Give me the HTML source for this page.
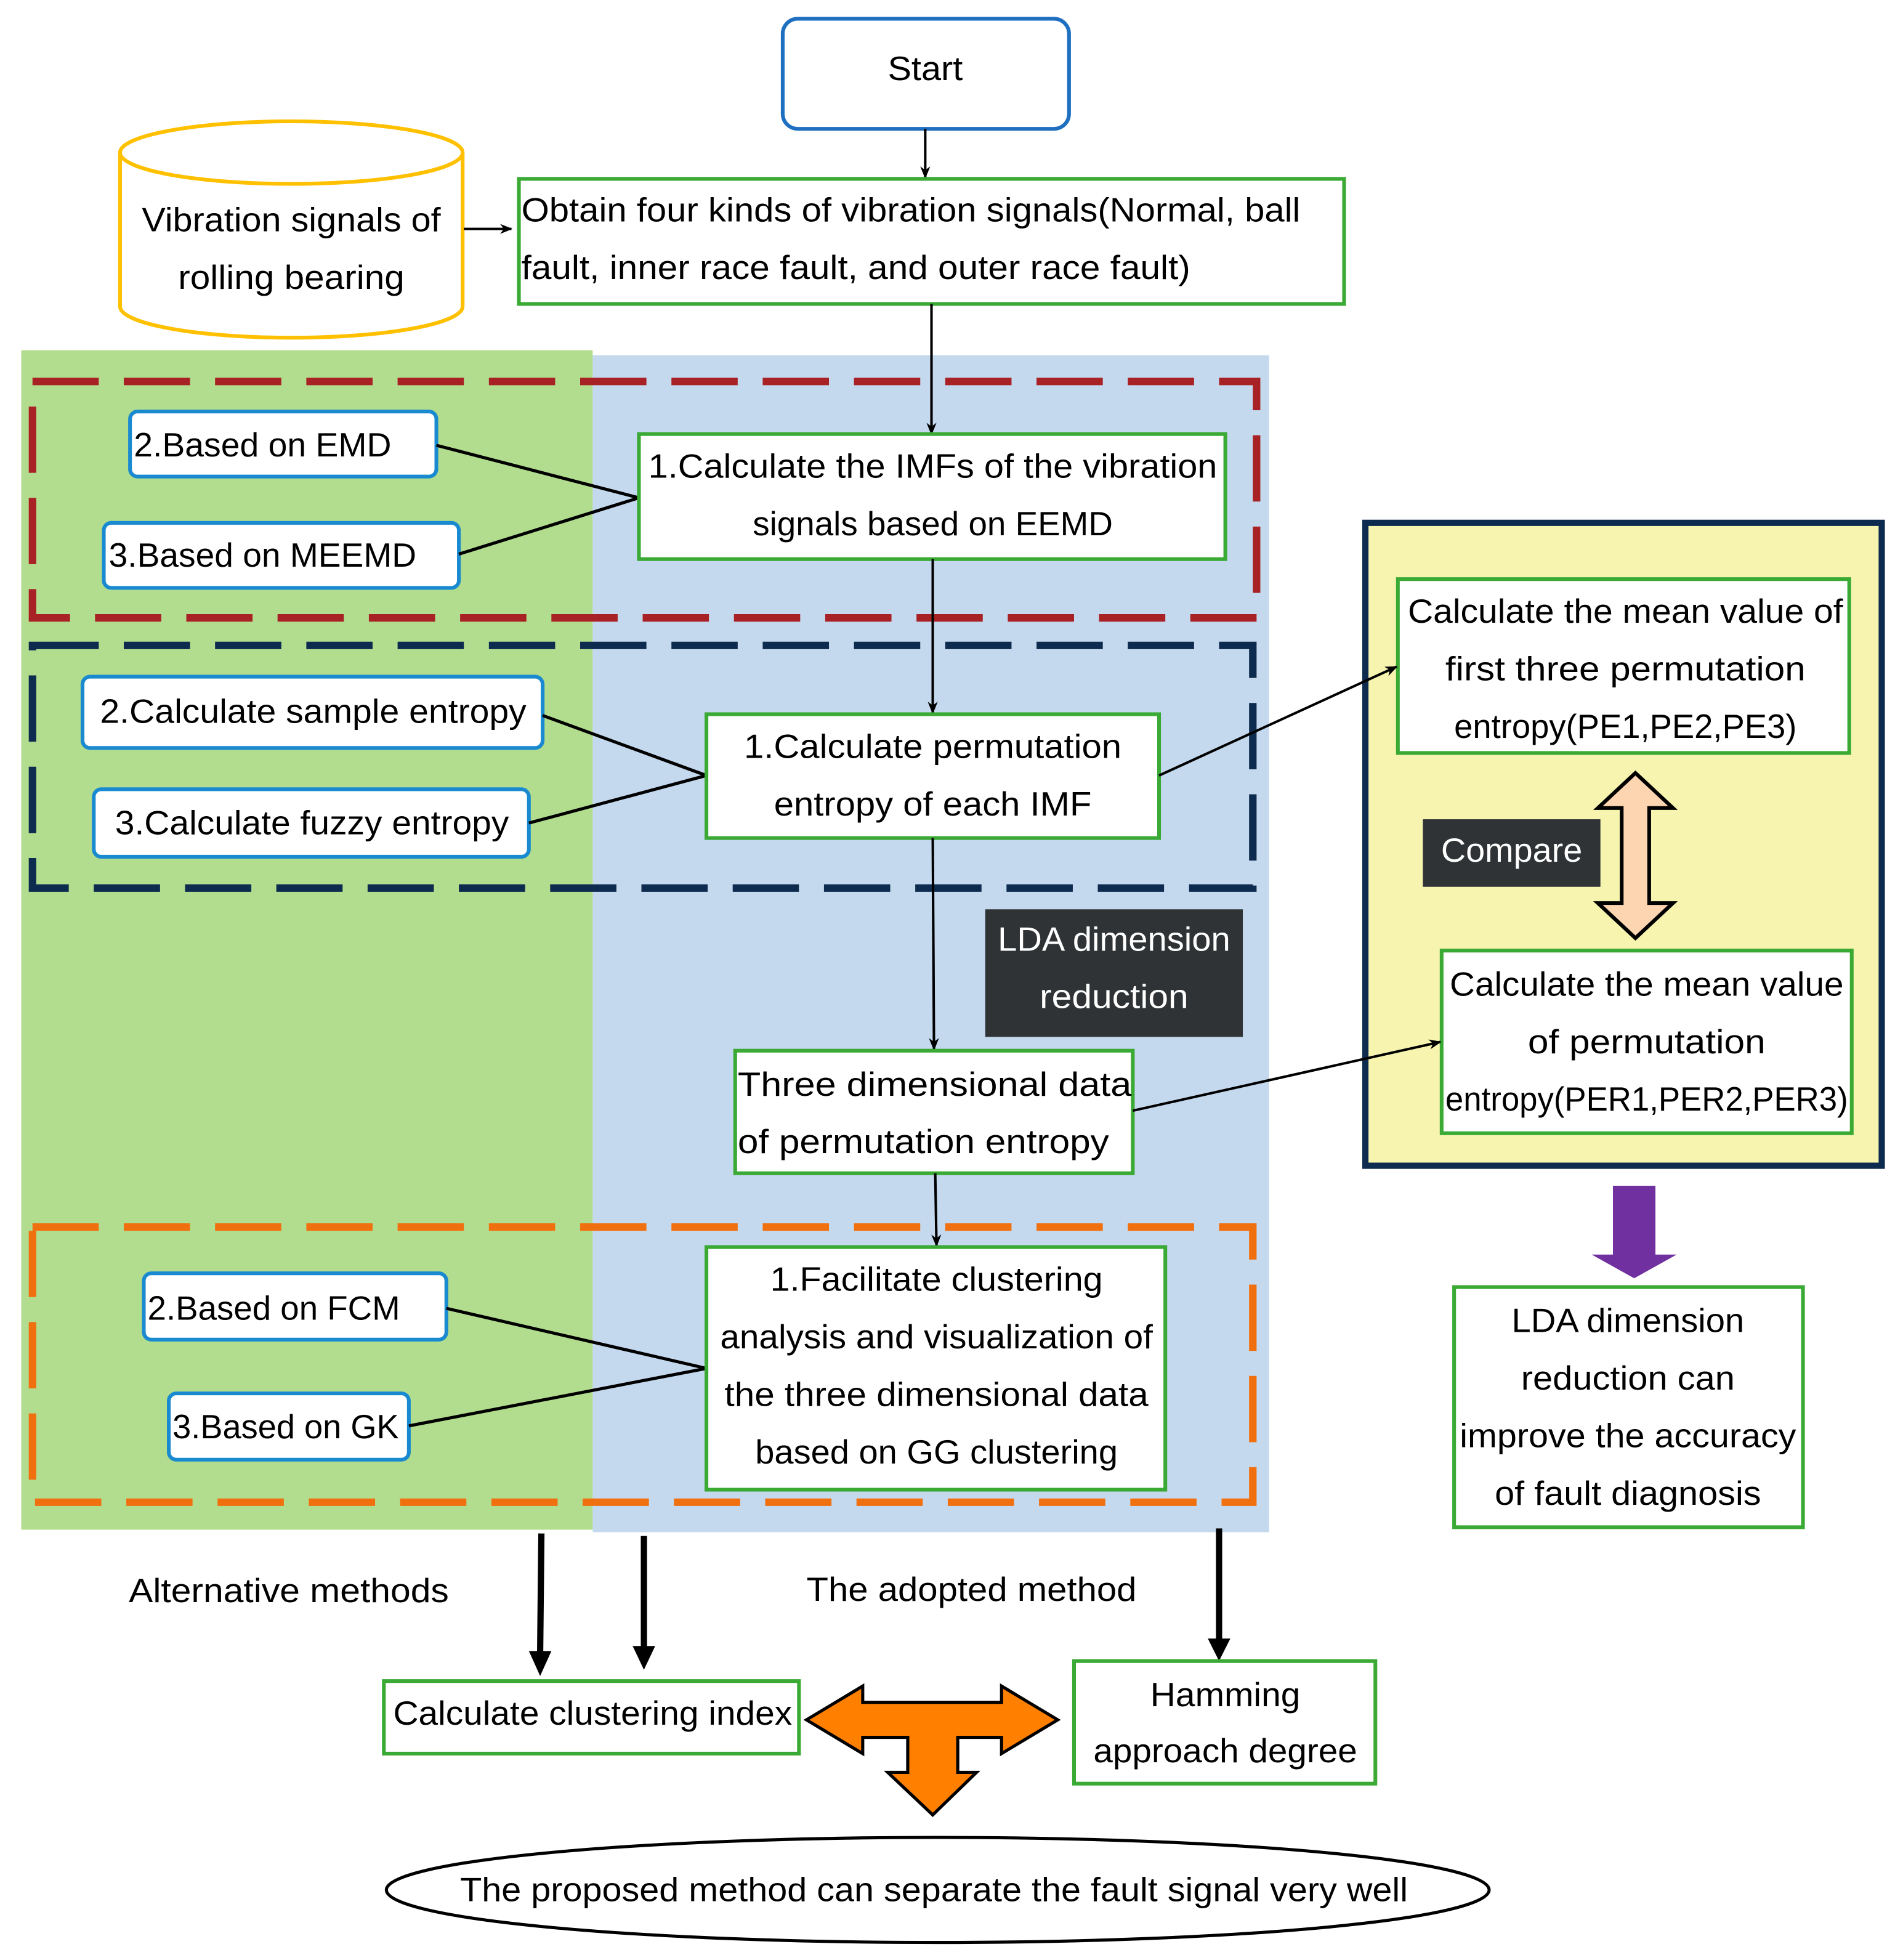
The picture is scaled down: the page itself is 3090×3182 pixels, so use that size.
<!DOCTYPE html>
<html><head><meta charset="utf-8"><style>
html,body{margin:0;padding:0;background:#fff;}
svg{display:block;}
text{font-family:"Liberation Sans",sans-serif;font-size:27px;fill:#000;}
</style></head><body>
<svg width="3090" height="3182" viewBox="0 0 1522 1567" preserveAspectRatio="none" xmlns="http://www.w3.org/2000/svg">
<defs>
<marker id="a" markerWidth="10" markerHeight="10" refX="9" refY="5" orient="auto" markerUnits="userSpaceOnUse"><path d="M0,1 L10,5 L0,9 L3,5 Z" fill="#000"/></marker>
</defs>
<rect width="1522" height="1567" fill="#fff"/>
<rect x="474" y="284" width="541" height="941" fill="#c5d9ee"/>
<rect x="17" y="280" width="457" height="943" fill="#b2dd8e"/>
<rect x="26" y="305" width="979" height="189" fill="none" stroke="#a82124" stroke-width="6" stroke-dasharray="53,20"/>
<rect x="26" y="516" width="976" height="194" fill="none" stroke="#0d2b4e" stroke-width="6" stroke-dasharray="53,20"/>
<rect x="26" y="981" width="976" height="220" fill="none" stroke="#f07010" stroke-width="6" stroke-dasharray="53,20"/>

<rect x="626" y="15" width="229" height="88" rx="12" fill="#fff" stroke="#1f6fc0" stroke-width="3"/>
<text x="740" y="64" text-anchor="middle" textLength="60" lengthAdjust="spacingAndGlyphs">Start</text>
<path d="M96,122 L96,245 A137,25 0 0 0 370,245 L370,122" fill="#fff" stroke="#ffc000" stroke-width="3"/>
<ellipse cx="233" cy="122" rx="137" ry="25" fill="#fff" stroke="#ffc000" stroke-width="3"/>
<text x="233" y="185" text-anchor="middle" textLength="239" lengthAdjust="spacingAndGlyphs">Vibration signals of</text>
<text x="233" y="231" text-anchor="middle" textLength="181" lengthAdjust="spacingAndGlyphs">rolling bearing</text>
<line x1="371" y1="183" x2="409" y2="183" stroke="#000" stroke-width="2" marker-end="url(#a)"/>
<line x1="740" y1="103" x2="740" y2="142" stroke="#000" stroke-width="2" marker-end="url(#a)"/>
<rect x="415" y="143" width="660" height="100" fill="#fff" stroke="#3aaa35" stroke-width="3"/>
<text x="417" y="177" textLength="623" lengthAdjust="spacingAndGlyphs">Obtain four kinds of vibration signals(Normal, ball</text>
<text x="417" y="223" textLength="535" lengthAdjust="spacingAndGlyphs">fault, inner race fault, and outer race fault)</text>
<line x1="745" y1="243" x2="745" y2="347" stroke="#000" stroke-width="2" marker-end="url(#a)"/>

<rect x="104" y="329" width="245" height="52" rx="6" fill="#fff" stroke="#1a8ad0" stroke-width="3"/>
<text x="107" y="365" textLength="206" lengthAdjust="spacingAndGlyphs">2.Based on EMD</text>
<rect x="83" y="418" width="284" height="52" rx="6" fill="#fff" stroke="#1a8ad0" stroke-width="3"/>
<text x="87" y="453" textLength="246" lengthAdjust="spacingAndGlyphs">3.Based on MEEMD</text>
<line x1="349" y1="356" x2="511" y2="398" stroke="#000" stroke-width="2.5"/>
<line x1="367" y1="443" x2="511" y2="398" stroke="#000" stroke-width="2.5"/>
<rect x="511" y="347" width="469" height="100" fill="#fff" stroke="#3aaa35" stroke-width="3"/>
<text x="746" y="382" text-anchor="middle" textLength="455" lengthAdjust="spacingAndGlyphs">1.Calculate the IMFs of the vibration</text>
<text x="746" y="428" text-anchor="middle" textLength="288" lengthAdjust="spacingAndGlyphs">signals based on EEMD</text>
<line x1="746" y1="447" x2="746" y2="570" stroke="#000" stroke-width="2" marker-end="url(#a)"/>

<rect x="66" y="541" width="368" height="57" rx="6" fill="#fff" stroke="#1a8ad0" stroke-width="3"/>
<text x="80" y="578" textLength="341" lengthAdjust="spacingAndGlyphs">2.Calculate sample entropy</text>
<rect x="75" y="631" width="348" height="54" rx="6" fill="#fff" stroke="#1a8ad0" stroke-width="3"/>
<text x="92" y="667" textLength="315" lengthAdjust="spacingAndGlyphs">3.Calculate fuzzy entropy</text>
<line x1="434" y1="572" x2="565" y2="620" stroke="#000" stroke-width="2.5"/>
<line x1="423" y1="658" x2="565" y2="620" stroke="#000" stroke-width="2.5"/>
<rect x="565" y="571" width="362" height="99" fill="#fff" stroke="#3aaa35" stroke-width="3"/>
<text x="746" y="606" text-anchor="middle" textLength="302" lengthAdjust="spacingAndGlyphs">1.Calculate permutation</text>
<text x="746" y="652" text-anchor="middle" textLength="254" lengthAdjust="spacingAndGlyphs">entropy of each IMF</text>
<line x1="746" y1="670" x2="747" y2="839" stroke="#000" stroke-width="2" marker-end="url(#a)"/>

<rect x="788" y="727" width="206" height="102" fill="#2f3335"/>
<text x="891" y="760" text-anchor="middle" textLength="186" lengthAdjust="spacingAndGlyphs" style="fill:#fff">LDA dimension</text>
<text x="891" y="806" text-anchor="middle" textLength="119" lengthAdjust="spacingAndGlyphs" style="fill:#fff">reduction</text>

<rect x="588" y="840" width="318" height="98" fill="#fff" stroke="#3aaa35" stroke-width="3"/>
<text x="590" y="876" textLength="315" lengthAdjust="spacingAndGlyphs">Three  dimensional  data</text>
<text x="590" y="922" textLength="297" lengthAdjust="spacingAndGlyphs">of permutation entropy</text>
<line x1="748" y1="938" x2="749" y2="996" stroke="#000" stroke-width="2" marker-end="url(#a)"/>

<rect x="115" y="1018" width="242" height="53" rx="6" fill="#fff" stroke="#1a8ad0" stroke-width="3"/>
<text x="118" y="1055" textLength="202" lengthAdjust="spacingAndGlyphs">2.Based on FCM</text>
<rect x="135" y="1114" width="192" height="53" rx="6" fill="#fff" stroke="#1a8ad0" stroke-width="3"/>
<text x="138" y="1150" textLength="181" lengthAdjust="spacingAndGlyphs">3.Based on GK</text>
<line x1="357" y1="1046" x2="565" y2="1094" stroke="#000" stroke-width="2.5"/>
<line x1="327" y1="1140" x2="565" y2="1094" stroke="#000" stroke-width="2.5"/>
<rect x="565" y="997" width="367" height="194" fill="#fff" stroke="#3aaa35" stroke-width="3"/>
<text x="749" y="1032" text-anchor="middle" textLength="266" lengthAdjust="spacingAndGlyphs">1.Facilitate clustering</text>
<text x="749" y="1078" text-anchor="middle" textLength="346" lengthAdjust="spacingAndGlyphs">analysis and visualization of</text>
<text x="749" y="1124" text-anchor="middle" textLength="339" lengthAdjust="spacingAndGlyphs">the three dimensional data</text>
<text x="749" y="1170" text-anchor="middle" textLength="290" lengthAdjust="spacingAndGlyphs">based on GG clustering</text>

<rect x="1092" y="418" width="413" height="514" fill="#f7f4b0" stroke="#0d2b4e" stroke-width="5"/>
<rect x="1118" y="463" width="361" height="139" fill="#fff" stroke="#3aaa35" stroke-width="3"/>
<text x="1300" y="498" text-anchor="middle" textLength="348" lengthAdjust="spacingAndGlyphs">Calculate the mean value of</text>
<text x="1300" y="544" text-anchor="middle" textLength="288" lengthAdjust="spacingAndGlyphs">first three permutation</text>
<text x="1300" y="590" text-anchor="middle" textLength="274" lengthAdjust="spacingAndGlyphs">entropy(PE1,PE2,PE3)</text>
<rect x="1138" y="655" width="142" height="54" fill="#2f3335"/>
<text x="1209" y="689" text-anchor="middle" textLength="113" lengthAdjust="spacingAndGlyphs" style="fill:#fff">Compare</text>
<polygon points="1308,618 1338,646 1319,646 1319,722 1338,722 1308,750 1278,722 1297,722 1297,646 1278,646" fill="#fdd5b1" stroke="#000" stroke-width="3"/>
<rect x="1153" y="760" width="328" height="146" fill="#fff" stroke="#3aaa35" stroke-width="3"/>
<text x="1317" y="796" text-anchor="middle" textLength="315" lengthAdjust="spacingAndGlyphs">Calculate the mean value</text>
<text x="1317" y="842" text-anchor="middle" textLength="190" lengthAdjust="spacingAndGlyphs">of permutation</text>
<text x="1317" y="888" text-anchor="middle" textLength="322" lengthAdjust="spacingAndGlyphs">entropy(PER1,PER2,PER3)</text>
<line x1="927" y1="620" x2="1117" y2="533" stroke="#000" stroke-width="2" marker-end="url(#a)"/>
<line x1="906" y1="888" x2="1152" y2="833" stroke="#000" stroke-width="2" marker-end="url(#a)"/>
<polygon points="1290,948 1324,948 1324,1003 1341,1003 1307,1022 1273,1003 1290,1003" fill="#7030a0"/>
<rect x="1163" y="1029" width="279" height="192" fill="#fff" stroke="#3aaa35" stroke-width="3"/>
<text x="1302" y="1065" text-anchor="middle" textLength="186" lengthAdjust="spacingAndGlyphs">LDA dimension</text>
<text x="1302" y="1111" text-anchor="middle" textLength="171" lengthAdjust="spacingAndGlyphs">reduction can</text>
<text x="1302" y="1157" text-anchor="middle" textLength="269" lengthAdjust="spacingAndGlyphs">improve the accuracy</text>
<text x="1302" y="1203" text-anchor="middle" textLength="213" lengthAdjust="spacingAndGlyphs">of fault diagnosis</text>

<line x1="433" y1="1226" x2="432" y2="1322" stroke="#000" stroke-width="5"/>
<polygon points="423,1320 441,1320 432,1340" fill="#000"/>
<line x1="515" y1="1228" x2="515" y2="1318" stroke="#000" stroke-width="5"/>
<polygon points="506,1316 524,1316 515,1335" fill="#000"/>
<line x1="975" y1="1222" x2="975" y2="1312" stroke="#000" stroke-width="5"/>
<polygon points="966,1310 984,1310 975,1328" fill="#000"/>
<text x="231" y="1281" text-anchor="middle" textLength="256" lengthAdjust="spacingAndGlyphs">Alternative methods</text>
<text x="777" y="1280" text-anchor="middle" textLength="264" lengthAdjust="spacingAndGlyphs">The adopted method</text>
<rect x="307" y="1344" width="332" height="58" fill="#fff" stroke="#3aaa35" stroke-width="3"/>
<text x="474" y="1379" text-anchor="middle" textLength="319" lengthAdjust="spacingAndGlyphs">Calculate clustering index</text>
<rect x="859" y="1328" width="241" height="98" fill="#fff" stroke="#3aaa35" stroke-width="3"/>
<text x="980" y="1364" text-anchor="middle" textLength="120" lengthAdjust="spacingAndGlyphs">Hamming</text>
<text x="980" y="1409" text-anchor="middle" textLength="211" lengthAdjust="spacingAndGlyphs">approach degree</text>
<polygon points="645,1375 690,1348 690,1361 801,1361 801,1348 846,1375 801,1402 801,1389 766,1389 766,1417 781,1417 746,1451 710,1417 726,1417 726,1389 690,1389 690,1402" fill="#ff8000" stroke="#000" stroke-width="2.5"/>
<ellipse cx="750" cy="1511" rx="441" ry="42" fill="#fff" stroke="#000" stroke-width="2.5"/>
<text x="747" y="1520" text-anchor="middle" textLength="758" lengthAdjust="spacingAndGlyphs">The proposed method can separate the fault signal very well</text>
</svg>
</body></html>
